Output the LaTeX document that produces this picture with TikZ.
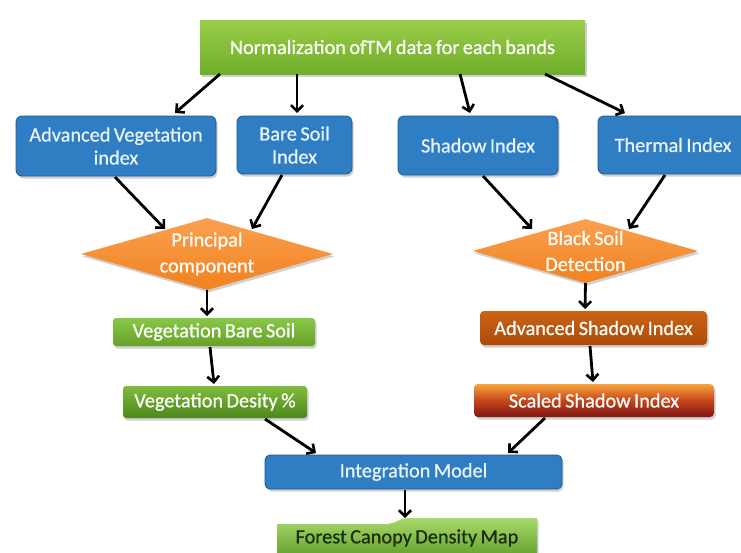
\documentclass[tikz,border=0pt]{standalone}
\usepackage{fontspec}
\setmainfont{Carlito}[WordSpace=0.75, BoldFont=Carlito, BoldFeatures={FakeBold=0.6}]
\usetikzlibrary{shapes.geometric,arrows.meta,calc,shadows}
\definecolor{bblue}{HTML}{2F7DC3}
\definecolor{bblueD}{HTML}{1F5A95}
\definecolor{btext}{HTML}{EAF4FF}
\definecolor{gtopA}{HTML}{9ACD4A}
\definecolor{gtopB}{HTML}{6FAE2A}
\definecolor{vbsA}{HTML}{88C846}
\definecolor{vbsB}{HTML}{66A02A}
\definecolor{vdA}{HTML}{80BD3C}
\definecolor{vdB}{HTML}{4C861C}
\definecolor{asiA}{HTML}{CB6414}
\definecolor{asiB}{HTML}{AE4A08}
\definecolor{ssiA}{HTML}{F9A43C}
\definecolor{ssiM}{HTML}{C4461C}
\definecolor{ssiB}{HTML}{7E1616}
\definecolor{dmA}{HTML}{FAA050}
\definecolor{dmB}{HTML}{F1821F}
\definecolor{fcA}{HTML}{A8DA6A}
\definecolor{fcB}{HTML}{5E9A28}
\definecolor{fctext}{HTML}{1B2E0B}
\tikzset{
  lbl/.style={font=\fontsize{20.3}{21}\selectfont\bfseries, align=center, inner sep=0pt},
  shad/.style={drop shadow={shadow xshift=1.5pt, shadow yshift=-2.5pt, opacity=0.3, fill=black!60}},
  bluebox/.style={lbl, shad, rectangle, rounded corners=6pt, fill=bblue, draw=bblueD, line width=0.8pt, text=btext},
  dmd/.style={lbl, shad, diamond, aspect=3.6, inner sep=0pt, top color=dmA, bottom color=dmB, draw=none, text=white},
  arr/.style={draw=black, line width=2.8pt, -{Straight Barb[length=6pt,width=12pt,line width=2.6pt]}},
}
\begin{document}
\begin{tikzpicture}[x=1pt,y=-1pt]
\useasboundingbox (0,0) rectangle (741,552);
\fill[white] (0,0) rectangle (741,552);

% nodes
\node[lbl, shad, rectangle, top color=gtopA, bottom color=gtopB, text=white, minimum width=385pt, minimum height=54pt] (top) at (392.5,47) {Normalization of\kern-1pt TM data for each bands};

\node[bluebox, minimum width=200pt, minimum height=60pt] (adv) at (116,146) {Advanced Vegetation\\[2pt]index};
\node[bluebox, minimum width=115pt, minimum height=58pt] (bare) at (294.5,145) {Bare Soil\\[2pt]Index};
\node[bluebox, minimum width=160pt, minimum height=59pt] (shd) at (478,145.5) {Shadow Index};
\node[bluebox, minimum width=150pt, minimum height=58pt] (thm) at (673,145) {Thermal Index};

\node[dmd, minimum width=252pt, minimum height=72pt] (pc) at (207,254) {Principal\\[5pt]component};
\node[dmd, minimum width=225pt, minimum height=64pt] (bsd) at (585.5,251) {Black Soil\\[5pt]Detection};

\node[lbl, shad, rectangle, rounded corners=3pt, top color=vbsA, bottom color=vbsB, text=white, minimum width=202pt, minimum height=28pt] (vbs) at (214,332) {Vegetation Bare Soil};
\node[lbl, shad, rectangle, rounded corners=4pt, top color=asiA, bottom color=asiB, text=white, minimum width=227pt, minimum height=34pt] (asi) at (593.5,328) {Advanced Shadow Index};

\node[lbl, shad, rectangle, rounded corners=3pt, top color=vdA, bottom color=vdB, text=white, minimum width=184pt, minimum height=32pt] (vd) at (215,402) {Vegetation Desity \%};
\node[lbl, shad, rectangle, rounded corners=4pt, top color=ssiA, bottom color=ssiB, middle color=ssiM, text=white, minimum width=240pt, minimum height=33pt] (ssi) at (594,400.5) {Scaled Shadow Index};

\node[bluebox, rounded corners=5pt, minimum width=297pt, minimum height=34pt] (im) at (413.5,472) {Integration Model};

% forest canopy density map (wavy top, cut by the lower edge)
\path[shad, top color=fcA, bottom color=fcB]
  (277,560) -- (277,524) -- (385,524) .. controls (397,524) and (398,518) .. (410,518) -- (537,518) -- (537,560) -- cycle;
\node[lbl, text=fctext] (fc) at (407,538) {Forest Canopy Density Map};
\coordinate (fctop) at (405,518);

% connectors
\draw[arr] ($(top)+(-172.5,27)$) -- ($(adv)+(59,-33)$);
\draw[arr] ($(top)+(-95.5,27)$) -- ($(bare)+(2.5,-32)$);
\draw[arr] ($(top)+(67.5,27)$) -- ($(shd)+(-8,-32.5)$);
\draw[arr] ($(top)+(152.5,27)$) -- ($(thm)+(-48,-32)$);
\draw[arr] ($(adv)+(-1,31)$) -- ($(pc)+(-42,-25)$);
\draw[arr] ($(bare)+(-12.5,30)$) -- ($(pc)+(45,-25)$);
\draw[arr] ($(shd)+(5,30.5)$) -- ($(bsd)+(-53.5,-22)$);
\draw[arr] ($(thm)+(-8,30)$) -- ($(bsd)+(43.5,-22)$);
\draw[arr] ($(pc)+(0,36)$) -- ($(vbs)+(-7,-16)$);
\draw[arr] ($(bsd)+(0,32)$) -- ($(asi)+(-8.5,-19)$);
\draw[arr] ($(vbs)+(-4,15)$) -- ($(vd)+(-1,-18)$);
\draw[arr] ($(asi)+(-3.5,18)$) -- ($(ssi)+(-1,-18.5)$);
\draw[arr] ($(vd)+(50,17)$) -- ($(im)+(-97.5,-19)$);
\draw[arr] ($(ssi)+(-49,17.5)$) -- ($(im)+(94.5,-19)$);
\draw[arr] ($(im)+(-8.5,18)$) -- (fctop);
\end{tikzpicture}
\end{document}
